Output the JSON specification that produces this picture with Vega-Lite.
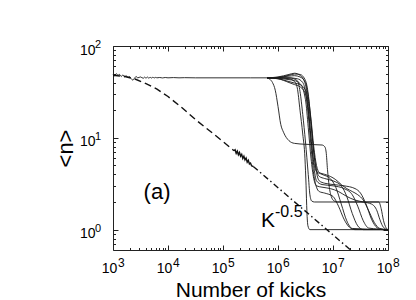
{
  "$schema": "https://vega.github.io/schema/vega-lite/v6.json",
  "autosize": {"type": "none"},
  "width": 275,
  "height": 204,
  "padding": {"left": 113, "top": 46, "right": 28, "bottom": 50},
  "background": "white",
  "config": {
    "view": {"stroke": null},
    "font": "Liberation Sans",
    "axis": {"grid": false, "domainColor": "#222", "tickColor": "#222", "labelColor": "#000", "labelFontSize": 14, "titleFontSize": 21, "titleFontWeight": "normal", "titleColor": "#000", "labelFont": "Liberation Sans", "titleFont": "Liberation Sans", "domainWidth": 1, "tickWidth": 1}
  },
  "datasets": {
    "curves": [
      {"id": "base", "k": 1000, "n": 49.5}, {"id": "base", "k": 1072, "n": 47.5}, {"id": "base", "k": 1148, "n": 50.0}, {"id": "base", "k": 1230, "n": 48.0}, {"id": "base", "k": 1318, "n": 49.0}, {"id": "base", "k": 1413, "n": 46.5}, {"id": "base", "k": 1514, "n": 48.5}, {"id": "base", "k": 1622, "n": 46.0}, {"id": "base", "k": 1738, "n": 47.5}, {"id": "base", "k": 1862, "n": 45.5}, {"id": "base", "k": 1995, "n": 46.5}, {"id": "base", "k": 2138, "n": 44.0}, {"id": "base", "k": 2291, "n": 42.5}, {"id": "base", "k": 2455, "n": 44.5}, {"id": "base", "k": 2630, "n": 46.5}, {"id": "base", "k": 2818, "n": 45.0}, {"id": "base", "k": 3162, "n": 46.0}, {"id": "base", "k": 3548, "n": 44.5}, {"id": "base", "k": 3758, "n": 45.8}, {"id": "base", "k": 3981, "n": 44.6}, {"id": "base", "k": 4217, "n": 45.9}, {"id": "base", "k": 4467, "n": 44.7}, {"id": "base", "k": 4732, "n": 45.6}, {"id": "base", "k": 5012, "n": 44.8}, {"id": "base", "k": 5309, "n": 45.7}, {"id": "base", "k": 5623, "n": 44.9}, {"id": "base", "k": 5957, "n": 45.5}, {"id": "base", "k": 6310, "n": 45.0}, {"id": "base", "k": 7079, "n": 45.4}, {"id": "base", "k": 7943, "n": 44.9}, {"id": "base", "k": 8913, "n": 45.4}, {"id": "base", "k": 10000, "n": 45.0}, {"id": "base", "k": 12590, "n": 45.3}, {"id": "base", "k": 15850, "n": 45.0}, {"id": "base", "k": 20000, "n": 45.2}, {"id": "base", "k": 31620, "n": 45.0}, {"id": "base", "k": 100000, "n": 45.0}, {"id": "base", "k": 316200, "n": 45.0}, {"id": "base", "k": 631000, "n": 45.0},

      {"id": "A", "k": 631000, "n": 45}, {"id": "A", "k": 708000, "n": 43.5}, {"id": "A", "k": 794300, "n": 40}, {"id": "A", "k": 891300, "n": 33}, {"id": "A", "k": 1000000, "n": 22}, {"id": "A", "k": 1122000, "n": 14}, {"id": "A", "k": 1259000, "n": 11.5}, {"id": "A", "k": 1585000, "n": 9.3}, {"id": "A", "k": 1995000, "n": 8.7}, {"id": "A", "k": 3162000, "n": 8.5}, {"id": "A", "k": 6310000, "n": 8.35}, {"id": "A", "k": 7079000, "n": 8.0}, {"id": "A", "k": 7500000, "n": 7.0}, {"id": "A", "k": 7943000, "n": 4.5}, {"id": "A", "k": 8500000, "n": 3.0}, {"id": "A", "k": 9300000, "n": 2.3}, {"id": "A", "k": 10500000, "n": 2.05}, {"id": "A", "k": 12000000, "n": 2.0}, {"id": "A", "k": 100000000, "n": 2.0},

      {"id": "B", "k": 631000, "n": 45}, {"id": "B", "k": 1000000, "n": 45}, {"id": "B", "k": 1585000, "n": 44}, {"id": "B", "k": 1995000, "n": 41}, {"id": "B", "k": 2239000, "n": 35}, {"id": "B", "k": 2512000, "n": 20}, {"id": "B", "k": 2818000, "n": 11}, {"id": "B", "k": 3090000, "n": 6}, {"id": "B", "k": 3240000, "n": 3}, {"id": "B", "k": 3350000, "n": 1.6}, {"id": "B", "k": 3500000, "n": 1.1}, {"id": "B", "k": 3800000, "n": 1.0}, {"id": "B", "k": 100000000, "n": 1.0},

      {"id": "C", "k": 631000, "n": 45}, {"id": "C", "k": 1000000, "n": 45}, {"id": "C", "k": 1585000, "n": 45}, {"id": "C", "k": 2239000, "n": 42}, {"id": "C", "k": 2512000, "n": 32}, {"id": "C", "k": 2818000, "n": 18}, {"id": "C", "k": 3162000, "n": 9}, {"id": "C", "k": 3548000, "n": 4}, {"id": "C", "k": 3802000, "n": 2.4}, {"id": "C", "k": 4100000, "n": 2.05}, {"id": "C", "k": 4600000, "n": 2.0}, {"id": "C", "k": 68000000, "n": 2.0}, {"id": "C", "k": 75000000, "n": 1.7}, {"id": "C", "k": 83000000, "n": 1.25}, {"id": "C", "k": 92000000, "n": 1.05}, {"id": "C", "k": 100000000, "n": 1.0},

      {"id": "D", "k": 631000, "n": 45}, {"id": "D", "k": 1000000, "n": 46}, {"id": "D", "k": 1585000, "n": 49}, {"id": "D", "k": 1995000, "n": 50.5}, {"id": "D", "k": 2512000, "n": 48}, {"id": "D", "k": 3162000, "n": 38}, {"id": "D", "k": 3548000, "n": 22}, {"id": "D", "k": 3981000, "n": 10}, {"id": "D", "k": 4467000, "n": 5.5}, {"id": "D", "k": 5012000, "n": 4.3}, {"id": "D", "k": 6310000, "n": 4.0}, {"id": "D", "k": 8913000, "n": 3.6}, {"id": "D", "k": 11220000, "n": 2.9}, {"id": "D", "k": 14130000, "n": 1.9}, {"id": "D", "k": 17780000, "n": 1.25}, {"id": "D", "k": 22390000, "n": 1.03}, {"id": "D", "k": 100000000, "n": 1.0},

      {"id": "E", "k": 631000, "n": 45}, {"id": "E", "k": 1000000, "n": 45.5}, {"id": "E", "k": 1585000, "n": 48}, {"id": "E", "k": 1995000, "n": 49.5}, {"id": "E", "k": 2512000, "n": 49}, {"id": "E", "k": 3162000, "n": 42}, {"id": "E", "k": 3548000, "n": 30}, {"id": "E", "k": 3981000, "n": 15}, {"id": "E", "k": 4467000, "n": 7}, {"id": "E", "k": 5012000, "n": 4.5}, {"id": "E", "k": 5623000, "n": 3.8}, {"id": "E", "k": 7079000, "n": 3.6}, {"id": "E", "k": 10000000, "n": 3.4}, {"id": "E", "k": 14130000, "n": 3.0}, {"id": "E", "k": 17780000, "n": 2.3}, {"id": "E", "k": 22390000, "n": 1.5}, {"id": "E", "k": 28180000, "n": 1.1}, {"id": "E", "k": 35480000, "n": 1.0}, {"id": "E", "k": 100000000, "n": 1.0},

      {"id": "F", "k": 631000, "n": 45}, {"id": "F", "k": 1000000, "n": 44}, {"id": "F", "k": 1585000, "n": 40}, {"id": "F", "k": 1995000, "n": 38}, {"id": "F", "k": 2512000, "n": 36}, {"id": "F", "k": 3162000, "n": 30}, {"id": "F", "k": 3548000, "n": 20}, {"id": "F", "k": 3981000, "n": 10}, {"id": "F", "k": 4467000, "n": 5}, {"id": "F", "k": 5012000, "n": 3.4}, {"id": "F", "k": 6310000, "n": 3.1}, {"id": "F", "k": 10000000, "n": 3.0}, {"id": "F", "k": 15850000, "n": 2.8}, {"id": "F", "k": 22390000, "n": 2.4}, {"id": "F", "k": 28180000, "n": 1.8}, {"id": "F", "k": 35480000, "n": 1.25}, {"id": "F", "k": 44670000, "n": 1.04}, {"id": "F", "k": 100000000, "n": 1.0},

      {"id": "G", "k": 631000, "n": 45}, {"id": "G", "k": 1000000, "n": 44}, {"id": "G", "k": 1585000, "n": 41}, {"id": "G", "k": 1995000, "n": 39.5}, {"id": "G", "k": 2512000, "n": 38}, {"id": "G", "k": 3162000, "n": 33}, {"id": "G", "k": 3548000, "n": 25}, {"id": "G", "k": 3981000, "n": 14}, {"id": "G", "k": 4467000, "n": 7}, {"id": "G", "k": 5012000, "n": 4.2}, {"id": "G", "k": 5623000, "n": 3.4}, {"id": "G", "k": 7079000, "n": 3.2}, {"id": "G", "k": 10000000, "n": 3.1}, {"id": "G", "k": 15850000, "n": 3.0}, {"id": "G", "k": 25120000, "n": 2.8}, {"id": "G", "k": 31620000, "n": 2.5}, {"id": "G", "k": 39810000, "n": 1.9}, {"id": "G", "k": 50120000, "n": 1.3}, {"id": "G", "k": 63100000, "n": 1.05}, {"id": "G", "k": 79430000, "n": 1.0}, {"id": "G", "k": 100000000, "n": 1.0},

      {"id": "H", "k": 631000, "n": 45}, {"id": "H", "k": 1000000, "n": 45}, {"id": "H", "k": 1585000, "n": 45}, {"id": "H", "k": 2239000, "n": 44}, {"id": "H", "k": 2818000, "n": 40}, {"id": "H", "k": 3162000, "n": 32}, {"id": "H", "k": 3548000, "n": 18}, {"id": "H", "k": 3981000, "n": 8}, {"id": "H", "k": 4467000, "n": 4}, {"id": "H", "k": 5012000, "n": 2.9}, {"id": "H", "k": 5623000, "n": 2.6}, {"id": "H", "k": 7079000, "n": 2.5}, {"id": "H", "k": 10000000, "n": 2.3}, {"id": "H", "k": 12590000, "n": 1.8}, {"id": "H", "k": 15850000, "n": 1.3}, {"id": "H", "k": 19950000, "n": 1.06}, {"id": "H", "k": 25120000, "n": 1.0}, {"id": "H", "k": 100000000, "n": 1.0},

      {"id": "I", "k": 631000, "n": 45}, {"id": "I", "k": 1000000, "n": 45.5}, {"id": "I", "k": 1585000, "n": 47}, {"id": "I", "k": 1995000, "n": 47.5}, {"id": "I", "k": 2512000, "n": 46}, {"id": "I", "k": 3162000, "n": 40}, {"id": "I", "k": 3548000, "n": 28}, {"id": "I", "k": 3981000, "n": 16}, {"id": "I", "k": 4467000, "n": 8}, {"id": "I", "k": 5012000, "n": 5}, {"id": "I", "k": 5623000, "n": 4.2}, {"id": "I", "k": 7079000, "n": 4.0}, {"id": "I", "k": 8913000, "n": 3.8}, {"id": "I", "k": 11220000, "n": 3.5}, {"id": "I", "k": 14130000, "n": 3.1}, {"id": "I", "k": 17780000, "n": 2.8}, {"id": "I", "k": 22390000, "n": 2.6}, {"id": "I", "k": 28180000, "n": 2.4}, {"id": "I", "k": 35480000, "n": 2.1}, {"id": "I", "k": 44670000, "n": 1.6}, {"id": "I", "k": 56230000, "n": 1.2}, {"id": "I", "k": 70790000, "n": 1.03}, {"id": "I", "k": 100000000, "n": 1.0},

      {"id": "J", "k": 631000, "n": 45}, {"id": "J", "k": 1000000, "n": 44.5}, {"id": "J", "k": 1585000, "n": 43}, {"id": "J", "k": 1995000, "n": 42}, {"id": "J", "k": 2512000, "n": 39}, {"id": "J", "k": 3162000, "n": 26}, {"id": "J", "k": 3548000, "n": 13}, {"id": "J", "k": 3981000, "n": 6}, {"id": "J", "k": 4467000, "n": 3.6}, {"id": "J", "k": 5012000, "n": 3.0}, {"id": "J", "k": 6310000, "n": 2.9}, {"id": "J", "k": 8913000, "n": 2.8}, {"id": "J", "k": 12590000, "n": 2.6}, {"id": "J", "k": 17780000, "n": 2.3}, {"id": "J", "k": 25120000, "n": 2.1}, {"id": "J", "k": 35480000, "n": 2.0}, {"id": "J", "k": 50120000, "n": 1.9}, {"id": "J", "k": 63100000, "n": 1.6}, {"id": "J", "k": 70790000, "n": 1.3}, {"id": "J", "k": 79430000, "n": 1.1}, {"id": "J", "k": 89130000, "n": 1.02}, {"id": "J", "k": 100000000, "n": 1.0}
    ],
    "guide": [
      {"part": "dash", "k": 1000, "n": 47.9}, {"part": "dash", "k": 1585, "n": 46.8}, {"part": "dash", "k": 2512, "n": 43.7}, {"part": "dash", "k": 3981, "n": 38.9}, {"part": "dash", "k": 6310, "n": 33.9}, {"part": "dash", "k": 10000, "n": 28.2}, {"part": "dash", "k": 17783, "n": 21.4}, {"part": "dash", "k": 31623, "n": 15.8}, {"part": "dash", "k": 56234, "n": 12.0}, {"part": "dash", "k": 100000, "n": 9.12}, {"part": "dash", "k": 158489, "n": 7.24},
      {"part": "noise", "k": 158489, "n": 7.24}, {"part": "noise", "k": 165959, "n": 7.41}, {"part": "noise", "k": 173780, "n": 6.76}, {"part": "noise", "k": 181970, "n": 7.16}, {"part": "noise", "k": 190546, "n": 6.53}, {"part": "noise", "k": 199526, "n": 6.92}, {"part": "noise", "k": 208930, "n": 6.31}, {"part": "noise", "k": 218776, "n": 6.61}, {"part": "noise", "k": 229087, "n": 5.96}, {"part": "noise", "k": 239883, "n": 6.31}, {"part": "noise", "k": 251189, "n": 5.75}, {"part": "noise", "k": 263027, "n": 6.03}, {"part": "noise", "k": 275423, "n": 5.43}, {"part": "noise", "k": 288403, "n": 5.69}, {"part": "noise", "k": 301995, "n": 5.19}, {"part": "noise", "k": 316228, "n": 5.31}, {"part": "noise", "k": 331131, "n": 4.95}, {"part": "noise", "k": 354813, "n": 4.88},
      {"part": "dashdot", "k": 354813, "n": 4.88}, {"part": "dashdot", "k": 20400000, "n": 0.607}
    ],
    "xexp": [
      {"k": 1000, "n": 0.6, "e": "3"}, {"k": 10000, "n": 0.6, "e": "4"}, {"k": 100000, "n": 0.6, "e": "5"}, {"k": 1000000, "n": 0.6, "e": "6"}, {"k": 10000000, "n": 0.6, "e": "7"}, {"k": 100000000, "n": 0.6, "e": "8"}
    ],
    "yexp": [
      {"k": 1000, "n": 1, "e": "0"}, {"k": 1000, "n": 10, "e": "1"}, {"k": 1000, "n": 100, "e": "2"}
    ]
  },
  "layer": [
    {
      "data": {"name": "curves"},
      "mark": {"type": "line", "interpolate": "monotone", "strokeWidth": 0.9, "color": "#1a1a1a"},
      "encoding": {
        "x": {"field": "k", "type": "quantitative",
          "scale": {"type": "log", "domain": [1000, 100000000], "nice": false},
          "axis": {"orient": "bottom",
            "values": [1000, 2000, 3000, 4000, 5000, 6000, 7000, 8000, 9000, 10000, 20000, 30000, 40000, 50000, 60000, 70000, 80000, 90000, 100000, 200000, 300000, 400000, 500000, 600000, 700000, 800000, 900000, 1000000, 2000000, 3000000, 4000000, 5000000, 6000000, 7000000, 8000000, 9000000, 10000000, 20000000, 30000000, 40000000, 50000000, 60000000, 70000000, 80000000, 90000000, 100000000],
            "labelExpr": "abs(log(datum.value)/LN10 - round(log(datum.value)/LN10)) < 1e-6 ? '10' : ''",
            "tickSize": {"condition": {"test": "abs(log(datum.value)/LN10 - round(log(datum.value)/LN10)) < 1e-6", "value": -5}, "value": -2.5},
            "labelPadding": 27, "labelBaseline": "alphabetic", "labelFlush": false, "labelOverlap": false, "labelOffset": -4,
            "title": "Number of kicks", "titleY": 46, "titleBaseline": "alphabetic"}},
        "y": {"field": "n", "type": "quantitative",
          "scale": {"type": "log", "domain": [0.6, 100], "nice": false},
          "axis": {"orient": "left",
            "values": [0.7, 0.8, 0.9, 1, 2, 3, 4, 5, 6, 7, 8, 9, 10, 20, 30, 40, 50, 60, 70, 80, 90, 100],
            "labelExpr": "abs(log(datum.value)/LN10 - round(log(datum.value)/LN10)) < 1e-6 ? '10' : ''",
            "tickSize": {"condition": {"test": "abs(log(datum.value)/LN10 - round(log(datum.value)/LN10)) < 1e-6", "value": -5}, "value": -2.5},
            "labelPadding": 23, "labelFlush": false, "labelOverlap": false, "labelBaseline": "alphabetic", "labelOffset": 8,
            "title": "<n>", "titleAngle": 270, "titleX": -41, "titleY": 102, "titleBaseline": "alphabetic", "titleAlign": "center", "titleFontSize": 22}},
        "detail": {"field": "id", "type": "nominal"}
      }
    },
    {
      "data": {"name": "guide"},
      "mark": {"type": "line", "strokeWidth": 1.4, "color": "#111"},
      "encoding": {
        "x": {"field": "k", "type": "quantitative",
          "scale": {"type": "log", "domain": [1000, 100000000], "nice": false},
          "axis": {"orient": "top", "labels": false, "title": null,
            "values": [1000, 2000, 3000, 4000, 5000, 6000, 7000, 8000, 9000, 10000, 20000, 30000, 40000, 50000, 60000, 70000, 80000, 90000, 100000, 200000, 300000, 400000, 500000, 600000, 700000, 800000, 900000, 1000000, 2000000, 3000000, 4000000, 5000000, 6000000, 7000000, 8000000, 9000000, 10000000, 20000000, 30000000, 40000000, 50000000, 60000000, 70000000, 80000000, 90000000, 100000000],
            "tickSize": {"condition": {"test": "abs(log(datum.value)/LN10 - round(log(datum.value)/LN10)) < 1e-6", "value": -5}, "value": -2.5}}},
        "y": {"field": "n", "type": "quantitative",
          "scale": {"type": "log", "domain": [0.6, 100], "nice": false},
          "axis": {"orient": "right", "labels": false, "title": null,
            "values": [0.7, 0.8, 0.9, 1, 2, 3, 4, 5, 6, 7, 8, 9, 10, 20, 30, 40, 50, 60, 70, 80, 90, 100],
            "tickSize": {"condition": {"test": "abs(log(datum.value)/LN10 - round(log(datum.value)/LN10)) < 1e-6", "value": -5}, "value": -2.5}}},
        "strokeDash": {"field": "part", "type": "nominal", "scale": {"domain": ["dash", "noise", "dashdot"], "range": [[7, 4], [1, 0], [6, 3, 1.5, 3]]}, "legend": null}
      }
    },
    {
      "data": {"name": "xexp"},
      "mark": {"type": "text", "fontSize": 12, "align": "left", "baseline": "alphabetic", "dx": 5, "dy": 17, "color": "#000"},
      "encoding": {
        "x": {"field": "k", "type": "quantitative", "axis": null},
        "y": {"field": "n", "type": "quantitative", "axis": null},
        "text": {"field": "e"}
      }
    },
    {
      "data": {"name": "yexp"},
      "mark": {"type": "text", "fontSize": 11, "align": "left", "baseline": "alphabetic", "dx": -18, "dy": 2, "color": "#000"},
      "encoding": {
        "x": {"field": "k", "type": "quantitative", "axis": null},
        "y": {"field": "n", "type": "quantitative", "axis": null},
        "text": {"field": "e"}
      }
    },
    {
      "data": {"values": [{"k": 6310, "n": 2.55, "t": "(a)"}]},
      "mark": {"type": "text", "fontSize": 22, "align": "center", "baseline": "middle", "color": "#000"},
      "encoding": {
        "x": {"field": "k", "type": "quantitative", "axis": null},
        "y": {"field": "n", "type": "quantitative", "axis": null},
        "text": {"field": "t"}
      }
    },
    {
      "data": {"values": [{"k": 658000, "n": 1.07, "t": "K"}]},
      "mark": {"type": "text", "fontSize": 21, "align": "center", "baseline": "alphabetic", "color": "#000"},
      "encoding": {
        "x": {"field": "k", "type": "quantitative", "axis": null},
        "y": {"field": "n", "type": "quantitative", "axis": null},
        "text": {"field": "t"}
      }
    },
    {
      "data": {"values": [{"k": 881000, "n": 1.37, "t": "-0.5"}]},
      "mark": {"type": "text", "fontSize": 16, "align": "left", "baseline": "alphabetic", "color": "#000"},
      "encoding": {
        "x": {"field": "k", "type": "quantitative", "axis": null},
        "y": {"field": "n", "type": "quantitative", "axis": null},
        "text": {"field": "t"}
      }
    }
  ],
  "resolve": {"axis": {"x": "independent", "y": "independent"}}
}
